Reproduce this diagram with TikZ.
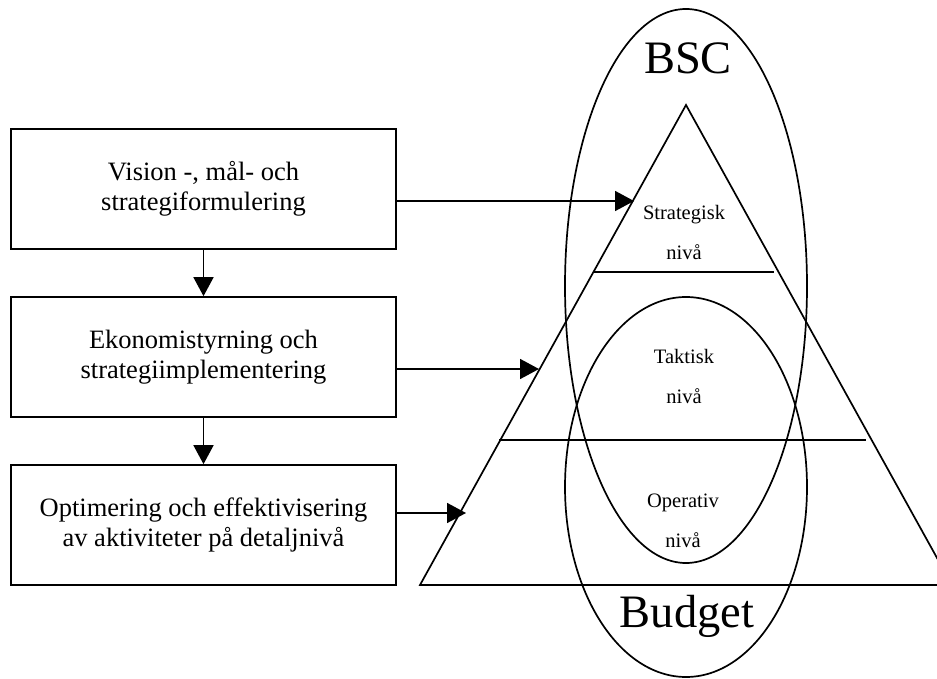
\documentclass[tikz,border=0pt]{standalone}
\usepackage{fontspec}
\setmainfont{Liberation Serif}
\usetikzlibrary{arrows.meta}
\begin{document}
\begin{tikzpicture}[x=1pt,y=-1pt,
  box/.style={draw, line width=1.7pt, minimum width=385pt, minimum height=120pt,
    align=center, inner sep=0pt, font=\fontsize{26.5}{30}\selectfont},
  arr/.style={line width=1.7pt, -{Triangle[length=19pt,width=20pt]}},
  lvl/.style={anchor=base, inner sep=0pt, font=\fontsize{20.5}{24}\selectfont},
  title/.style={anchor=base, inner sep=0pt, font=\fontsize{46.5}{50}\selectfont},
  outline/.style={line width=1.7pt}]
\useasboundingbox (0,0) rectangle (937,679);
\clip (0,0) rectangle (937,679);

% process boxes on the left
\node[box] (b1) at (203.5,189) {Vision -, mål- och\\strategiformulering};
\node[box] (b2) at (203.5,357) {Ekonomistyrning och\\strategiimplementering};
\node[box] (b3) at (203.5,525) {Optimering och effektivisering\\av aktiviteter på detaljnivå};

\draw[arr] (b1.south) -- (b2.north);
\draw[arr] (b2.south) -- (b3.north);

% pyramid of levels
\coordinate (apex) at (686,105);
\coordinate (bl) at (420,585);
\coordinate (br) at (952,585);
\draw[outline, line join=miter] (apex) -- (bl) -- (br) -- cycle;

\coordinate (s1) at (593,272);
\coordinate (s2) at (774,272);
\coordinate (k1) at (499,440);
\coordinate (k2) at (866,440);
\draw[outline] (s1) -- (s2);
\draw[outline] (k1) -- (k2);

% BSC and budget ellipses
\draw[outline] (686,286) ellipse [x radius=121pt, y radius=277pt];
\draw[outline] (686,487) ellipse [x radius=121pt, y radius=190pt];

% arrows from the boxes to the pyramid
\coordinate (t1) at (634,201);
\coordinate (t2) at (539,369);
\coordinate (t3) at (466,513);
\draw[arr] (b1.east |- t1) -- (t1);
\draw[arr] (b2.east |- t2) -- (t2);
\draw[arr] (b3.east |- t3) -- (t3);

% level labels
\node[lvl] (l1a) at (684,219) {Strategisk};
\node[lvl] (l1b) at (684,259) {nivå};
\node[lvl] (l2a) at (684,363) {Taktisk};
\node[lvl] (l2b) at (684,403) {nivå};
\node[lvl] (l3a) at (683,507) {Operativ};
\node[lvl] (l3b) at (683,547) {nivå};

\node[title] (bsc) at (688,74) {BSC};
\node[title] (budget) at (687,627) {Budget};
\end{tikzpicture}
\end{document}
